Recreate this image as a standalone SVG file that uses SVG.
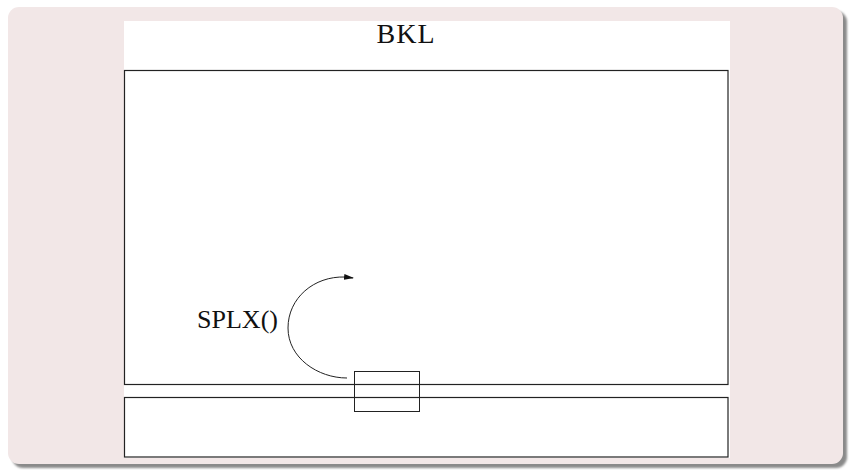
<svg xmlns="http://www.w3.org/2000/svg" width="850" height="471" viewBox="0 0 850 471">
  <defs>
    <filter id="shadow" x="-5%" y="-5%" width="112%" height="115%">
      <feGaussianBlur stdDeviation="1.2"/>
    </filter>
    <marker id="arrow" markerWidth="10" markerHeight="8" refX="9" refY="4" orient="auto" markerUnits="userSpaceOnUse">
      <path d="M0,1 L10,4 L0,7 Z" fill="#111"/>
    </marker>
  </defs>
  <style>
    .box { fill: #ffffff; stroke: #222; stroke-width: 1.2; }
    .lbl { font-family: "Liberation Serif", "Times New Roman", serif; fill: #111; }
    .conn { fill: none; stroke: #222; stroke-width: 1; }
  </style>

  <!-- framed panel with drop shadow -->
  <rect x="12" y="11" width="835" height="457" rx="11" fill="#8a8a8a" filter="url(#shadow)"/>
  <rect x="8" y="7" width="835" height="457" rx="11" fill="#f2e7e7"/>
  <rect x="124" y="21" width="606" height="437" fill="#ffffff"/>

  <g id="title">
    <text class="lbl" x="406" y="43" font-size="28" text-anchor="middle" letter-spacing="1">BKL</text>
  </g>

  <g id="upper-region">
    <rect class="box" x="124.5" y="70.5" width="603.5" height="314"/>
  </g>

  <g id="lower-region">
    <rect class="box" x="124.5" y="397.5" width="603.5" height="59.5"/>
  </g>

  <g id="splice-box">
    <rect x="354.5" y="371.5" width="65" height="40" fill="none" stroke="#222" stroke-width="1"/>
  </g>

  <g id="splx-label">
    <text class="lbl" x="197" y="328" font-size="26" textLength="81" lengthAdjust="spacingAndGlyphs">SPLX()</text>
  </g>

  <g id="connectors">
    <path class="conn" d="M347,378 C318,378 288,358 288,328 C288,298 314,276 345,277 L353,278" marker-end="url(#arrow)"/>
  </g>
</svg>
